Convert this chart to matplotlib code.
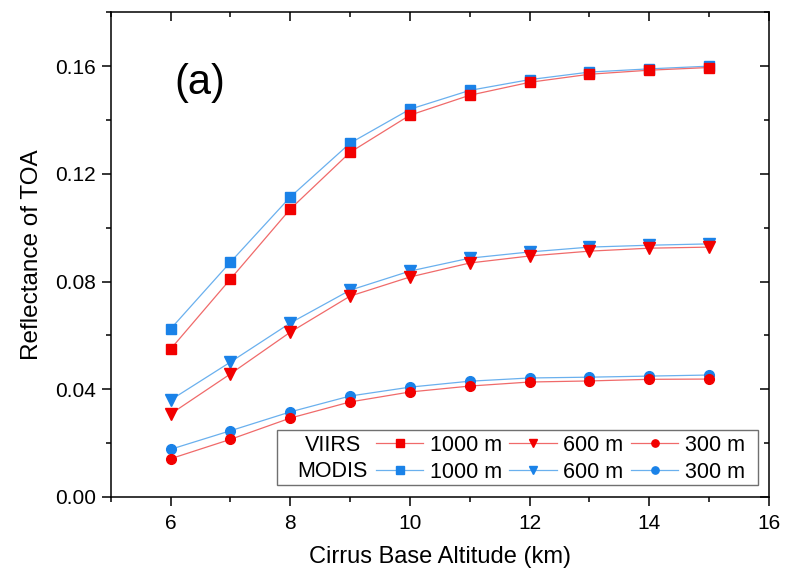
import matplotlib

matplotlib.use("Agg")
import matplotlib.pyplot as plt
from matplotlib.patches import Rectangle
from matplotlib.ticker import MultipleLocator
import numpy as np

plt.rcParams.update(
    {
        "font.family": ["Liberation Sans", "DejaVu Sans"],
        "axes.linewidth": 1.1,
    }
)

# cirrus base altitude (km)
altitude = np.arange(6, 16)

viirs_1000 = [0.0549, 0.0809, 0.1069, 0.1280, 0.1418, 0.1492, 0.1540, 0.1570, 0.1585, 0.1595]
modis_1000 = [0.0624, 0.0872, 0.1114, 0.1314, 0.1440, 0.1510, 0.1550, 0.1578, 0.1590, 0.1600]
viirs_600 = [0.0308, 0.0457, 0.0612, 0.0746, 0.0817, 0.0869, 0.0895, 0.0913, 0.0924, 0.0928]
modis_600 = [0.0360, 0.0501, 0.0646, 0.0768, 0.0839, 0.0887, 0.0910, 0.0928, 0.0935, 0.0940]
viirs_300 = [0.0142, 0.0214, 0.0293, 0.0353, 0.0390, 0.0412, 0.0427, 0.0431, 0.0437, 0.0438]
modis_300 = [0.0177, 0.0246, 0.0316, 0.0375, 0.0408, 0.0430, 0.0442, 0.0445, 0.0449, 0.0453]

thickness = ["1000 m", "600 m", "300 m"]
markers = ["s", "v", "o"]

RED = "#F20000"
RED_LINE = "#F06A6A"
BLUE = "#1A82E8"
BLUE_LINE = "#6AB0EE"

fig = plt.figure(figsize=(7.85, 5.81), dpi=100)
ax = fig.add_axes([110.7 / 785, (581 - 497) / 581, 658.3 / 785, 484.7 / 581])

viirs = [viirs_1000, viirs_600, viirs_300]
modis = [modis_1000, modis_600, modis_300]
handles = []
for label, mk, vv, mm in zip(thickness, markers, viirs, modis):
    ms = 8 if mk == "v" else 7
    (hm,) = ax.plot(altitude, mm, color=BLUE_LINE, lw=0.9, marker=mk, ms=ms,
                    mfc=BLUE, mec=BLUE, label=label, zorder=2)
    (hv,) = ax.plot(altitude, vv, color=RED_LINE, lw=0.9, marker=mk, ms=ms,
                    mfc=RED, mec=RED, label=label, zorder=3)
    handles += [hv, hm]

ax.set_xlim(5, 16)
ax.set_ylim(0, 0.18)
ax.xaxis.set_major_locator(MultipleLocator(2))
ax.xaxis.set_minor_locator(MultipleLocator(1))
ax.yaxis.set_major_locator(MultipleLocator(0.04))
ax.yaxis.set_minor_locator(MultipleLocator(0.02))
ax.yaxis.set_major_formatter(lambda v, _: f"{v:.2f}")
ax.tick_params(which="both", top=True, right=True, labelsize=15, width=1.1)
ax.tick_params(which="major", length=6.5)
ax.tick_params(which="minor", length=3.5)
ax.tick_params(axis="x", which="both", direction="out", pad=6)
ax.tick_params(axis="y", which="both", direction="out", pad=4)
# top/right ticks point inward
for t in ax.xaxis.get_major_ticks() + ax.xaxis.get_minor_ticks():
    t.tick2line.set_marker(3)
for t in ax.yaxis.get_major_ticks() + ax.yaxis.get_minor_ticks():
    t.tick2line.set_marker(0)

ax.set_xlabel("Cirrus Base Altitude (km)", fontsize=17, labelpad=9)
ax.set_ylabel("Reflectance of TOA", fontsize=17.5, labelpad=9)

ax.text(0.135, 0.855, "(a)", transform=ax.transAxes, fontsize=30, ha="center", va="center")

# legend: frame and row titles drawn by hand, entries by ax.legend
box = Rectangle((0.2526, 0.0247), 0.983 - 0.2526, 0.138 - 0.0247, transform=ax.transAxes,
                fill=True, facecolor="white", edgecolor="#707070", lw=1.0, zorder=4)
ax.add_patch(box)
ax.text(0.3375, 0.107, "VIIRS", transform=ax.transAxes, fontsize=15.5, ha="center", va="center", zorder=5)
ax.text(0.3375, 0.052, "MODIS", transform=ax.transAxes, fontsize=15.5, ha="center", va="center", zorder=5)
leg = ax.legend(handles=handles, ncol=3, frameon=False, fontsize=15.5, loc="center",
                bbox_to_anchor=(0.683, 0.079), handlelength=2.2, handletextpad=0.3,
                columnspacing=0.35, labelspacing=0.28, markerscale=0.75, borderpad=0.0)
leg.set_zorder(6)

fig.savefig("out.png", dpi=100)
